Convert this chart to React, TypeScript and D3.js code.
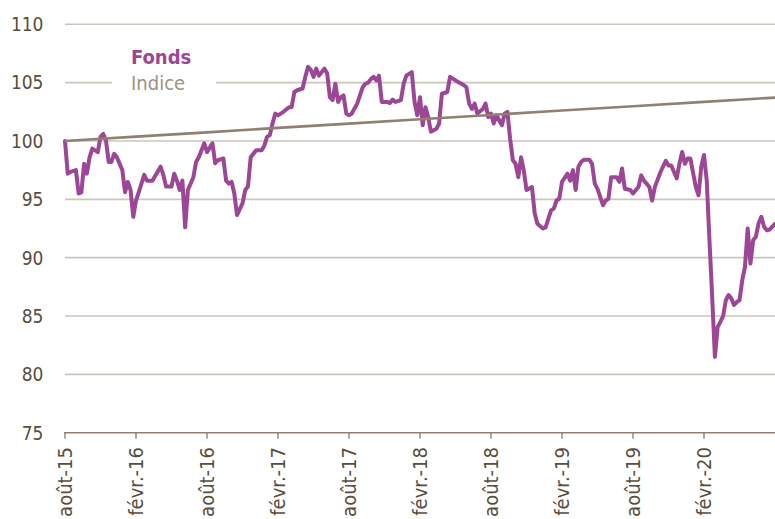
import React from 'react';
import * as d3 from 'd3';

// Weekly observations: [week index since août-15, value]
const fonds: [number, number][] = [
  [0, 100.0], [1, 97.2], [2, 97.35], [4, 97.5], [5, 95.5], [6, 95.6], [7, 98.05], [8, 97.2], [9, 98.6], [10, 99.35],
  [12, 99.05], [13, 100.35], [14, 100.6], [15, 100.05], [16, 98.2], [17, 98.2], [18, 98.9], [19, 98.6], [21, 97.5],
  [22, 95.6], [23, 96.5], [24, 95.8], [25, 93.5], [26, 94.9], [27, 95.6], [29, 97.1], [30, 96.6], [32, 96.6],
  [35, 97.8], [36, 97.1], [37, 96.1], [39, 96.1], [40, 97.2], [41, 96.6], [42, 95.8], [43, 96.6], [44, 92.6],
  [45, 95.8], [47, 96.9], [48, 98.2], [49, 98.6], [51, 99.8], [52, 99.05], [54, 99.8], [55, 98.1], [56, 98.35],
  [58, 98.5], [59, 96.6], [60, 96.35], [61, 96.5], [62, 95.5], [63, 93.65], [65, 94.65], [66, 95.8], [67, 96.1],
  [68, 98.6], [70, 99.2], [72, 99.2], [73, 99.6], [74, 100.35], [75, 100.5], [76, 101.5], [77, 102.35], [78, 102.2],
  [80, 102.5], [82, 102.9], [83, 102.9], [84, 104.2], [85, 104.35], [87, 104.5], [88, 105.5], [89, 106.35],
  [90, 106.1], [91, 105.5], [92, 106.2], [93, 105.6], [95, 106.2], [96, 105.8], [97, 103.75], [98, 103.5],
  [99, 104.9], [100, 103.35], [101, 103.75], [102, 103.9], [103, 102.35], [104, 102.2], [105, 102.35], [107, 103.2],
  [108, 103.9], [109, 104.6], [110, 104.9], [111, 105.0], [112, 105.3], [113, 105.5], [114, 105.2], [115, 105.6],
  [116, 103.35], [118, 103.35], [119, 103.25], [120, 103.55], [121, 103.35], [123, 103.5], [124, 104.9],
  [125, 105.6], [126, 105.75], [127, 105.9], [128, 103.35], [129, 102.2], [130, 103.75], [131, 101.35],
  [132, 102.9], [133, 102.05], [134, 100.8], [136, 101.05], [137, 101.5], [138, 104.05], [140, 104.2],
  [141, 105.5], [142, 105.35], [144, 105.05], [146, 104.8], [147, 104.6], [148, 103.2], [149, 102.75],
  [150, 103.2], [151, 102.35], [153, 102.75], [154, 103.2], [155, 102.05], [156, 102.35], [157, 101.5],
  [158, 102.2], [160, 101.35], [161, 102.35], [162, 102.5], [163, 100.2], [164, 98.35], [165, 98.05],
  [166, 96.9], [167, 98.6], [168, 97.5], [169, 95.8], [171, 96.05], [172, 93.8], [173, 92.9], [175, 92.5],
  [176, 92.6], [177, 93.35], [178, 94.05], [179, 94.2], [180, 94.9], [181, 95.05], [182, 96.5], [184, 97.2],
  [185, 96.6], [186, 97.5], [187, 95.8], [188, 97.8], [189, 98.2], [190, 98.4], [192, 98.4], [193, 98.05],
  [194, 96.35], [195, 95.9], [197, 94.5], [198, 94.9], [199, 95.05], [200, 96.9], [202, 96.9], [203, 96.5],
  [204, 97.65], [205, 95.9], [207, 95.8], [208, 95.5], [210, 96.05], [211, 97.05], [212, 96.6], [214, 96.05],
  [215, 94.9], [216, 96.05], [218, 97.3], [220, 98.3], [221, 97.9], [222, 97.9], [224, 96.8], [225, 98.05],
  [226, 99.05], [227, 98.05], [228, 98.5], [229, 98.5], [231, 96.05], [232, 95.35], [233, 97.8], [234, 98.8],
  [235, 96.6], [236, 91.5], [237, 86.6], [238, 81.5], [239, 84.05], [240, 84.5], [241, 85.0], [242, 86.35],
  [243, 86.8], [244, 86.5], [245, 85.95], [246, 86.2], [247, 86.35], [248, 88.05], [249, 89.2], [250, 92.5],
  [251, 89.5], [252, 91.5], [253, 91.8], [254, 92.95], [255, 93.5], [256, 92.65], [257, 92.35], [258, 92.4],
  [260, 92.9],
];

const indiceWeeks = [0, 26, 52, 78, 104, 130, 156, 182, 208, 234, 260];
const indiceValues = [100.0, 100.37, 100.74, 101.12, 101.49, 101.86, 102.23, 102.61, 102.98, 103.35, 103.72];

const tickWeeks = [0, 26, 52, 78, 104, 130, 156, 182, 208, 234];
const tickLabels = ['août-15', 'févr.-16', 'août-16', 'févr.-17', 'août-17', 'févr.-18', 'août-18', 'févr.-19', 'août-19', 'févr.-20'];
const yTicks = [75, 80, 85, 90, 95, 100, 105, 110];

const W = 775;
const H = 519;
const FONT = "'DejaVu Sans Condensed', 'DejaVu Sans', sans-serif";
const PURPLE = '#9B4796';
const INDEX = '#8E8170';
const GRID = '#CDC5BB';
const TEXT = '#594D3D';

export default function App() {
  const x = d3.scaleLinear().domain([0, 260]).range([65, 775]);
  const y = d3.scaleLinear().domain([75, 110]).range([432.7, 24.3]);

  const fondsLine = d3.line<[number, number]>().x(d => x(d[0])).y(d => y(d[1]));
  const indiceData: [number, number][] = indiceWeeks.map((w, i) => [w, indiceValues[i]]);

  return (
    <svg width={W} height={H} style={{ position: 'absolute', left: 0, top: 0, background: '#fff' }}>
      {yTicks.filter(t => t !== 75).map(t => (
        <line key={t} x1={65} x2={775} y1={y(t)} y2={y(t)} stroke={GRID} strokeWidth={1.6} />
      ))}
      {yTicks.map(t => (
        <text key={'l' + t} x={43.5} y={y(t)} dy="0.36em" textAnchor="end" fontFamily={FONT} fontSize={19} fill={TEXT}>
          {t}
        </text>
      ))}
      {/* legend */}
      <rect x={112} y={40} width={104} height={56} fill="#fff" />
      <text x={131} y={64} fontFamily={FONT} fontSize={20} fontWeight="bold" fill={PURPLE}>Fonds</text>
      <text x={131} y={90} fontFamily={FONT} fontSize={20} fill="#9D9284">Indice</text>
      {/* x axis */}
      <line x1={64} x2={775} y1={y(75)} y2={y(75)} stroke={INDEX} strokeWidth={1.6} />
      {tickWeeks.map((w, i) => (
        <g key={w} transform={`translate(${x(w)},0)`}>
          <line x1={0} x2={0} y1={y(75)} y2={y(75) + 6} stroke={INDEX} strokeWidth={1.4} />
          <text transform={`translate(0,447) rotate(-90)`} dy="0.36em" textAnchor="end" fontFamily={FONT} fontSize={20} fill={TEXT}>
            {tickLabels[i]}
          </text>
        </g>
      ))}
      <path d={fondsLine(fonds) || ''} fill="none" stroke={PURPLE} strokeWidth={4} strokeLinejoin="round" strokeLinecap="round" />
      <path d={fondsLine(indiceData) || ''} fill="none" stroke={INDEX} strokeWidth={2.6} />
    </svg>
  );
}
